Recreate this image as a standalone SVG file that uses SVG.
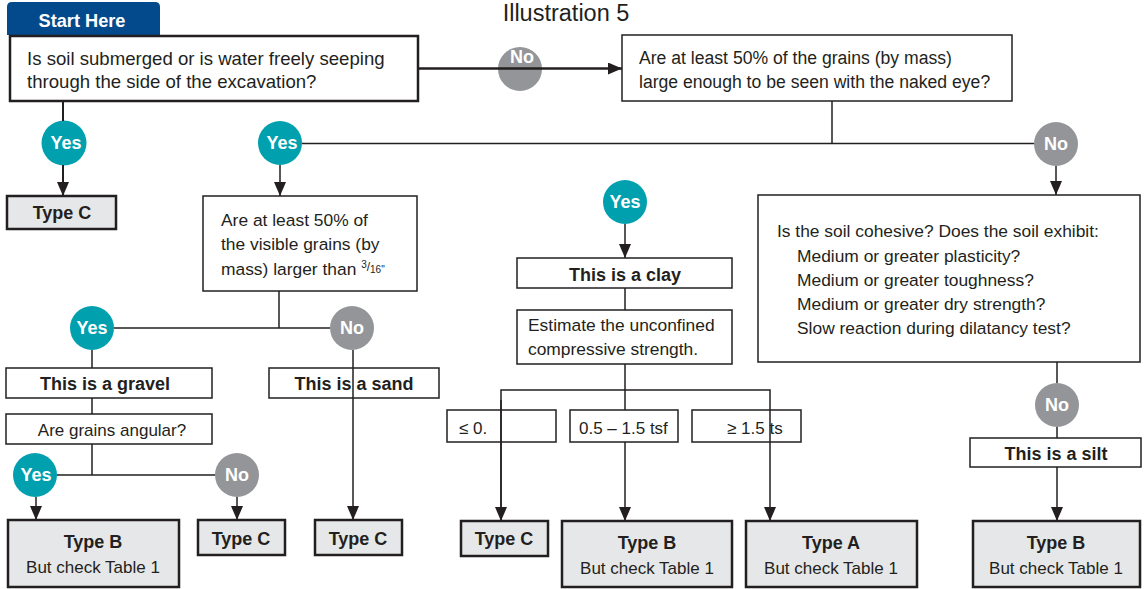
<svg xmlns="http://www.w3.org/2000/svg" width="1148" height="589" viewBox="0 0 1148 589">
<style>
text{font-family:"Liberation Sans",Arial,sans-serif;fill:#231f20}
.q{font-size:17.4px}
.b{font-weight:bold;font-size:18px}
.s{font-size:17px}
.box{fill:#fff;stroke:#231f20;stroke-width:1.5}
.tbox{fill:#e6e7e8;stroke:#231f20;stroke-width:2.5}
.yes{fill:#00a0af}
.no{fill:#939598}
.lbl{font-family:"Liberation Sans",Arial,sans-serif;font-weight:bold;font-size:18px;fill:#fff;text-anchor:middle}
.c{text-anchor:middle}
.ln{fill:none;stroke:#231f20;stroke-width:1.5}
.arr{marker-end:url(#ah)}
</style>
<defs>
<marker id="ah" markerUnits="userSpaceOnUse" markerWidth="14" markerHeight="12" refX="14" refY="6" orient="auto">
<path d="M0,0 L14,6 L0,12 z" fill="#231f20"/>
</marker>
</defs>
<text x="566" y="21" class="c" style="font-size:23.5px">Illustration 5</text>

<g id="start">
<path d="M7,35 V7 Q7,2 12,2 H155 Q160,2 160,7 V35 z" fill="#034a8c"/>
<text x="82" y="27" class="c" style="font-weight:bold;font-size:18.2px;fill:#fff">Start Here</text>
</g>
<g id="q1">
<rect x="10" y="36" width="408" height="65" fill="#fff" stroke="#231f20" stroke-width="2.5"/>
<text x="27" y="65" style="font-size:18.6px">Is soil submerged or is water freely seeping</text>
<text x="27" y="88" style="font-size:18.6px">through the side of the excavation?</text>
</g>
<g id="q2">
<rect x="622" y="35" width="390" height="66" class="box"/>
<text x="639" y="64" style="font-size:17.6px">Are at least 50% of the grains (by mass)</text>
<text x="639" y="88" style="font-size:17.6px">large enough to be seen with the naked eye?</text>
</g>
<g id="typeC1">
<rect x="7" y="196" width="109" height="33" class="tbox"/>
<text x="62" y="219" class="b c">Type C</text>
</g>
<g id="q3">
<rect x="203" y="196" width="214" height="95" class="box"/>
<text x="221" y="226" class="q">Are at least 50% of</text>
<text x="221" y="250" class="q">the visible grains (by</text>
<text x="221" y="275" class="q">mass) larger than <tspan style="font-size:10px" dy="-7">3</tspan><tspan style="font-size:12px" dy="3">/</tspan><tspan style="font-size:10px" dy="2">16"</tspan></text>
</g>
<g id="gravel">
<rect x="6" y="368" width="206" height="30" class="box"/>
<text x="105" y="390" class="b c">This is a gravel</text>
</g>
<g id="angular">
<rect x="6" y="414" width="206" height="30" class="box"/>
<text x="112" y="436" class="s c">Are grains angular?</text>
</g>
<g id="typeB1">
<rect x="8" y="520" width="171" height="67" class="tbox"/>
<text x="93" y="548" class="b c">Type B</text>
<text x="93" y="573" class="s c">But check Table 1</text>
</g>
<g id="typeC2">
<rect x="198" y="520" width="87" height="35" class="tbox"/>
<text x="241" y="545" class="b c">Type C</text>
</g>
<g id="sand">
<rect x="269" y="368" width="170" height="30" class="box"/>
<text x="354" y="390" class="b c">This is a sand</text>
</g>
<g id="typeC3">
<rect x="315" y="520" width="87" height="35" class="tbox"/>
<text x="358" y="545" class="b c">Type C</text>
</g>
<g id="clay">
<rect x="517" y="258" width="215" height="30" class="box"/>
<text x="625" y="281" class="b c">This is a clay</text>
</g>
<g id="estimate">
<rect x="517" y="310" width="215" height="54" class="box"/>
<text x="528" y="331" class="q">Estimate the unconfined</text>
<text x="528" y="355" class="q">compressive strength.</text>
</g>
<g id="le05">
<rect x="447" y="410" width="109" height="32" class="box"/>
<text x="459" y="434" class="s">≤ 0.</text>
</g>
<g id="mid">
<rect x="570" y="410" width="108" height="32" class="box"/>
<text x="579" y="434" class="s">0.5 – 1.5 tsf</text>
</g>
<g id="ge15">
<rect x="692" y="410" width="109" height="32" class="box"/>
<text x="727" y="434" class="s">≥ 1.5 ts</text>
</g>
<g id="typeC4">
<rect x="461" y="521" width="87" height="35" class="tbox"/>
<text x="504" y="545" class="b c">Type C</text>
</g>
<g id="typeB2">
<rect x="562" y="521" width="170" height="66" class="tbox"/>
<text x="647" y="549" class="b c">Type B</text>
<text x="647" y="574" class="s c">But check Table 1</text>
</g>
<g id="typeA">
<rect x="746" y="521" width="171" height="66" class="tbox"/>
<text x="831" y="549" class="b c">Type A</text>
<text x="831" y="574" class="s c">But check Table 1</text>
</g>
<g id="cohesive">
<rect x="758" y="195" width="382" height="167" class="box"/>
<text x="777" y="237" class="q">Is the soil cohesive? Does the soil exhibit:</text>
<text x="797" y="262" class="q">Medium or greater plasticity?</text>
<text x="797" y="286" class="q">Medium or greater toughness?</text>
<text x="797" y="310" class="q">Medium or greater dry strength?</text>
<text x="797" y="334" class="q">Slow reaction during dilatancy test?</text>
</g>
<g id="silt">
<rect x="970" y="438" width="171" height="29" class="box"/>
<text x="1056" y="460" class="b c">This is a silt</text>
</g>
<g id="typeB3">
<rect x="973" y="521" width="167" height="66" class="tbox"/>
<text x="1056" y="549" class="b c">Type B</text>
<text x="1056" y="574" class="s c">But check Table 1</text>
</g>

<g id="circles">
<circle cx="520" cy="69" r="22" class="no"/><text x="522" y="63" class="lbl">No</text>
<circle cx="64" cy="143" r="22.5" class="yes"/><text x="66" y="149" class="lbl">Yes</text>
<circle cx="280" cy="143" r="22" class="yes"/><text x="282" y="149" class="lbl">Yes</text>
<circle cx="1056" cy="144" r="22" class="no"/><text x="1056" y="150" class="lbl">No</text>
<circle cx="625" cy="202" r="22" class="yes"/><text x="625" y="208" class="lbl">Yes</text>
<circle cx="92" cy="328" r="22" class="yes"/><text x="92" y="334" class="lbl">Yes</text>
<circle cx="352" cy="328" r="22" class="no"/><text x="352" y="334" class="lbl">No</text>
<circle cx="35" cy="475" r="22" class="yes"/><text x="36" y="481" class="lbl">Yes</text>
<circle cx="237" cy="475" r="22" class="no"/><text x="237" y="481" class="lbl">No</text>
<circle cx="1057" cy="405" r="22" class="no"/><text x="1057" y="411" class="lbl">No</text>
</g>

<g id="connectors">
<line x1="418" y1="68.5" x2="622" y2="68.5" class="ln arr" style="stroke-width:2.5"/>
<line x1="63" y1="101" x2="63" y2="121" class="ln" style="stroke-width:2"/>
<line x1="63" y1="165" x2="63" y2="196" class="ln arr" style="stroke-width:2"/>
<line x1="832" y1="101" x2="832" y2="143.5"  class="ln"/>
<line x1="302" y1="143.5" x2="1034" y2="143.5" class="ln"/>
<line x1="280" y1="165" x2="280" y2="196" class="ln arr"/>
<line x1="1056" y1="166" x2="1056" y2="195" class="ln arr"/>
<line x1="625" y1="224" x2="625" y2="258" class="ln arr"/>
<line x1="279" y1="291" x2="279" y2="328" class="ln"/>
<line x1="114" y1="328" x2="330" y2="328" class="ln"/>
<line x1="92" y1="350" x2="92" y2="368" class="ln"/>
<line x1="92" y1="398" x2="92" y2="414" class="ln"/>
<line x1="92" y1="444" x2="92" y2="475" class="ln"/>
<line x1="57" y1="475" x2="215" y2="475" class="ln"/>
<line x1="36" y1="497" x2="36" y2="520" class="ln arr"/>
<line x1="237" y1="497" x2="237" y2="520" class="ln arr"/>
<line x1="353" y1="350" x2="353" y2="520" class="ln arr"/>
<line x1="625" y1="288" x2="625" y2="310" class="ln"/>
<line x1="625" y1="364" x2="625" y2="410" class="ln"/>
<polyline points="501,521 501,390 770,390 770,521" class="ln arr"/>
<line x1="501" y1="400" x2="501" y2="521" class="ln arr"/>
<line x1="625" y1="442" x2="625" y2="521" class="ln arr"/>
<line x1="1057" y1="362" x2="1057" y2="383" class="ln"/>
<line x1="1057" y1="427" x2="1057" y2="438" class="ln"/>
<line x1="1057" y1="467" x2="1057" y2="521" class="ln arr"/>
</g>
</svg>
